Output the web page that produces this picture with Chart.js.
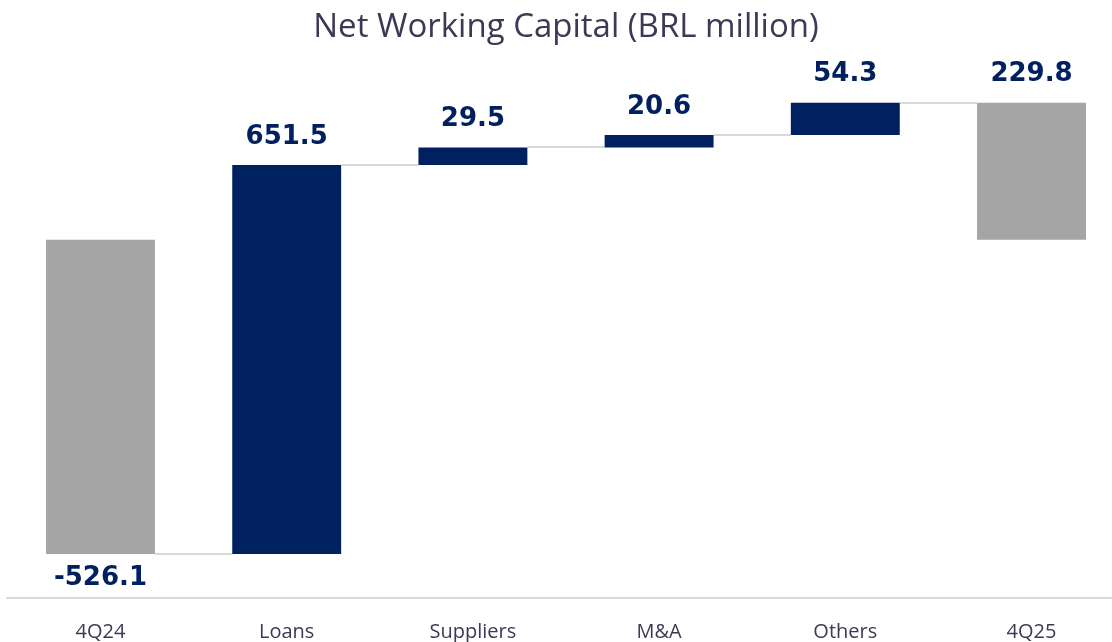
<!DOCTYPE html>
<html>
<head>
<meta charset="utf-8">
<title>Net Working Capital</title>
<script src="https://cdn.jsdelivr.net/npm/chart.js@4"></script>
<style>
  html, body { margin: 0; padding: 0; background: #fff; overflow: hidden; height: 642px; }
  #wrap { width: 1126px; height: 642px; overflow: hidden; }
</style>
</head>
<body>
<div id="wrap"><canvas id="myChart" width="1126" height="666"></canvas></div>
<script>
// data
var categories = ['4Q24', 'Loans', 'Suppliers', 'M&A', 'Others', '4Q25'];
var changes = [-526.1, 651.5, 29.5, 20.6, 54.3, 229.8];
var isTotal = [true, false, false, false, false, true];

// build floating bars from the running total
var bars = [];
var running = 0;
for (var i = 0; i < changes.length; i++) {
  if (isTotal[i]) {
    bars.push([0, changes[i]]);
    running = changes[i];
  } else {
    bars.push([running, running + changes[i]]);
    running += changes[i];
  }
}

var navy = '#002060';
var grey = '#A5A5A5';

// connectors between bars + value labels
var waterfallExtras = {
  id: 'waterfallExtras',
  beforeDatasetsDraw: function (chart) {
    var ctx = chart.ctx;
    var y = chart.scales.y;
    var els = chart.getDatasetMeta(0).data;
    ctx.save();
    ctx.strokeStyle = '#D9D9D9';
    ctx.lineWidth = 2;
    for (var i = 0; i < els.length - 1; i++) {
      var py = Math.round(y.getPixelForValue(bars[i][1]));
      ctx.beginPath();
      ctx.moveTo(els[i].x + els[i].width / 2, py);
      ctx.lineTo(els[i + 1].x - els[i + 1].width / 2, py);
      ctx.stroke();
    }
    ctx.restore();
  },
  afterDatasetsDraw: function (chart) {
    var ctx = chart.ctx;
    var els = chart.getDatasetMeta(0).data;
    ctx.save();
    ctx.font = 'bold 26px "DejaVu Sans"';
    ctx.fillStyle = navy;
    ctx.textAlign = 'center';
    ctx.textBaseline = 'middle';
    for (var i = 0; i < els.length; i++) {
      var top = Math.min(els[i].y, els[i].base);
      var bottom = Math.max(els[i].y, els[i].base);
      var txt = changes[i].toFixed(1);
      if (changes[i] >= 0) {
        ctx.fillText(txt, els[i].x, top - 28);
      } else {
        ctx.fillText(txt, els[i].x, bottom + 24);
      }
    }
    ctx.restore();
  }
};

var ctx = document.getElementById('myChart').getContext('2d');
var chart = new Chart(ctx, {
  type: 'bar',
  data: {
    labels: categories,
    datasets: [{
      data: bars,
      backgroundColor: isTotal.map(function (t) { return t ? grey : navy; }),
      borderWidth: 0,
      barPercentage: 0.585,
      categoryPercentage: 1
    }]
  },
  options: {
    responsive: false,
    animation: false,
    layout: { padding: { left: 7.4, right: 1.4, top: 0, bottom: 0 } },
    plugins: {
      legend: { display: false },
      tooltip: { enabled: false },
      title: {
        display: true,
        text: 'Net Working Capital (BRL million)',
        color: '#3F3756',
        font: { family: 'Open Sans', size: 33, weight: 'normal' },
        padding: { top: 8.2, bottom: 13 }
      }
    },
    scales: {
      x: {
        grid: { display: false, drawTicks: false },
        border: { display: true, color: '#D9D9D9', width: 2 },
        ticks: {
          color: '#3F3756',
          font: { family: 'Open Sans', size: 20 },
          padding: 22
        }
      },
      y: {
        display: false,
        min: -600,
        max: 300
      }
    }
  },
  plugins: [waterfallExtras]
});
</script>
</body>
</html>
